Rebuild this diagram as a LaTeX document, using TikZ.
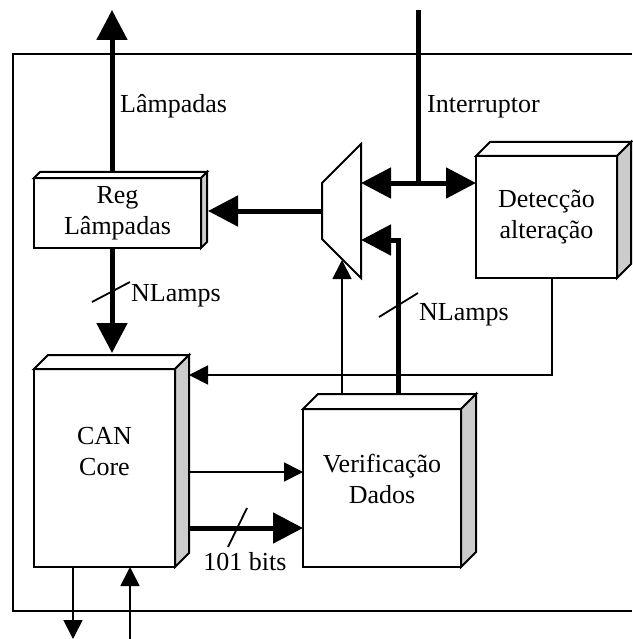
\documentclass[tikz,border=0pt]{standalone}
\usepackage{fontspec}
\setmainfont{Liberation Serif}
\usepackage{tikz}
\usetikzlibrary{arrows.meta}

\tikzset{
  blk/.style={draw, fill=white, line width=2pt, inner sep=0pt, outer sep=0pt},
  txt/.style={align=center, inner sep=0pt, font=\fontsize{26}{31}\selectfont},
  bus/.style={line width=5pt},
  sig/.style={line width=1.8pt},
  bigtip/.tip={Triangle[length=30pt,width=30pt]},
  smalltip/.tip={Triangle[length=19pt,width=19pt]},
}

% top and side faces of a block
\newcommand{\boxfaces}[2]{%
  \draw[line width=2pt,fill=white] (#1.north west) -- ([shift={(#2,-#2)}]#1.north west)
    -- ([shift={(#2,-#2)}]#1.north east) -- (#1.north east) -- cycle;
  \draw[line width=2pt,fill=black!20] (#1.north east) -- ([shift={(#2,-#2)}]#1.north east)
    -- ([shift={(#2,-#2)}]#1.south east) -- (#1.south east) -- cycle;}

\begin{document}
\begin{tikzpicture}[x=1pt,y=-1pt]
    \useasboundingbox (0,0) rectangle (632,639);
    \draw[line width=1.8pt] (632,54) -- (13,54) -- (13,611) -- (632,611);

    % blocks
    \node[blk, minimum width=167pt, minimum height=70pt] (reg) at (117.5,213) {};
    \node[blk, minimum width=141pt, minimum height=198pt] (can) at (104.5,468) {};
    \node[blk, minimum width=158pt, minimum height=158pt] (verif) at (382,488) {};
    \node[blk, minimum width=141pt, minimum height=122pt] (detec) at (546.5,217) {};
    \boxfaces{reg}{6}
    \boxfaces{can}{14}
    \boxfaces{verif}{15}
    \boxfaces{detec}{14}
    \node[txt] (regtxt) at (reg) {Reg\\Lâmpadas};
    \node[txt] (cantxt) at ([yshift=16pt]can.center) {CAN\\Core};
    \node[txt] (veriftxt) at ([yshift=9pt]verif.center) {Verificação\\Dados};
    \node[txt] (detectxt) at (detec) {Detecção\\alteração};

    % mux
    \draw[line width=2pt] (322,183) -- (361,144) -- (361,278) -- (322,239) -- cycle;
    \coordinate (muxout) at (322,211);
    \coordinate (muxa) at (361,183);
    \coordinate (muxb) at (361,240);
    \coordinate (muxsel) at (342,260);

    % outside ports
    \coordinate (lampout) at (112,10);
    \coordinate (intin) at (418,10);
    \coordinate (canout) at (73,639);
    \coordinate (canin) at (130,639);

    \draw[bus,-bigtip] ([shift={(-5.5,-6)}]reg.north) -- (lampout);
    \node[txt,anchor=west] (lamplbl) at (120,106) {Lâmpadas};
    \draw[bus,-bigtip] ([xshift=-5.5pt]reg.south) -- ([shift={(7.5,-16)}]can.north);
    \node[txt,anchor=west] (nlamps1) at (131,296) {NLamps};
    \draw[bus,-bigtip] (muxout) -- ([shift={(7,-2)}]reg.east);

    \draw[bus] (intin) -- (intin |- muxa);
    \draw[bus,bigtip-bigtip] (muxa) -- (muxa -| detec.west);
    \node[txt,anchor=west] (intlbl) at (427,107) {Interruptor};

    \draw[bus,-bigtip] ([shift={(16,-15)}]verif.north) |- (muxb);
    \node[txt,anchor=west] (nlamps2) at (419,315) {NLamps};
    \draw[sig,-smalltip] ([shift={(-40,-15)}]verif.north) -- (muxsel);
    \draw[sig,-smalltip] ([xshift=5.5pt]detec.south) |- ([shift={(14,6)}]can.north east);

    \draw[sig,-smalltip] ([shift={(13,4)}]can.east) coordinate (c1) -- (c1 -| verif.west);
    \draw[bus,-bigtip] ([shift={(13,60)}]can.east) coordinate (c2) -- (c2 -| verif.west);
    \node[txt] (bitslbl) at (245,562) {101 bits};

    \draw[sig,-smalltip] ([xshift=-31.5pt]can.south) -- (canout);
    \draw[sig,-smalltip] (canin) -- ([xshift=25.5pt]can.south);

    % bus width marks
    \foreach \a/\b in {{(92,302)}/{(130,282)}, {(379,317)}/{(418,293)}, {(228,547)}/{(247,508)}}
    \draw[sig] \a -- \b;
\end{tikzpicture}
\end{document}
